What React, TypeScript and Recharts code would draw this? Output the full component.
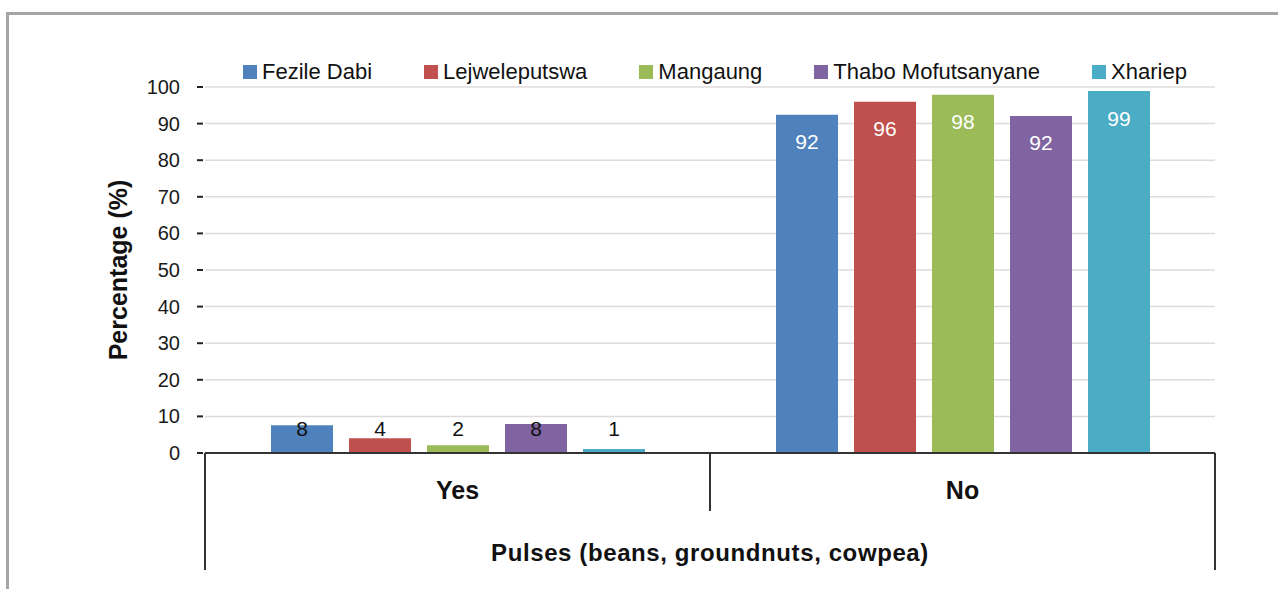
import { BarChart, Bar, XAxis, YAxis, CartesianGrid, Legend, LabelList } from 'recharts';

const categories = ['Yes', 'No'];
const districts = ['Fezile Dabi', 'Lejweleputswa', 'Mangaung', 'Thabo Mofutsanyane', 'Xhariep'];
const fezileDabi = [7.6, 92.4];
const lejweleputswa = [4.0, 96.0];
const mangaung = [2.1, 97.9];
const thaboMofutsanyane = [7.9, 92.1];
const xhariep = [1.1, 98.9];
const yTicks = [0, 10, 20, 30, 40, 50, 60, 70, 80, 90, 100];

const seriesValues = [fezileDabi, lejweleputswa, mangaung, thaboMofutsanyane, xhariep];
const colors = ['#4F81BD', '#C0504D', '#9BBB59', '#8064A2', '#4BACC6'];

const data = categories.map((category, i) => {
  const row: Record<string, string | number> = { category };
  districts.forEach((d, j) => { row[d] = seriesValues[j][i]; });
  return row;
});

const FONT = '"Liberation Sans", Arial, Helvetica, sans-serif';

const YTick = ({ x, y, payload }: any) => (
  <g>
    <text x={x} y={y} textAnchor="end" dominantBaseline="central" fontSize={20} fill="#1a1a1a" fontFamily={FONT}>
      {payload.value}
    </text>
    <line x1={x + 17} x2={x + 23} y1={y} y2={y} stroke="#222" strokeWidth={2} />
  </g>
);

// category label plus the divider lines of the two-level axis
const XTick = ({ x, y, payload, index, visibleTicksCount }: any) => {
  const half = payload.offset;
  const last = index === visibleTicksCount - 1;
  return (
    <g>
      <line x1={x - half} x2={x - half} y1={y} y2={index === 0 ? y + 117 : y + 58} stroke="#333" strokeWidth={2} />
      {last && <line x1={x + half} x2={x + half} y1={y} y2={y + 117} stroke="#333" strokeWidth={2} />}
      <text x={x} y={y + 37} textAnchor="middle" dominantBaseline="central" fontSize={25} fontWeight="bold" fill="#111" fontFamily={FONT}>
        {payload.value}
      </text>
    </g>
  );
};

const YTitle = ({ viewBox }: any) => {
  const cx = viewBox.x + 118;
  const cy = viewBox.y + viewBox.height / 2;
  return (
    <text x={cx} y={cy} transform={`rotate(-90, ${cx}, ${cy})`} textAnchor="middle" dominantBaseline="central"
      fontSize={25} fontWeight="bold" fill="#111" fontFamily={FONT}>
      Percentage (%)
    </text>
  );
};

const BarValue = ({ x, y, width, height, value }: any) => {
  const inside = value > 50;
  return (
    <text x={x + width / 2} y={inside ? y + 27 : y + height - 25} textAnchor="middle" dominantBaseline="central"
      fontSize={21} fill={inside ? '#fff' : '#111'} fontFamily={FONT}>
      {Math.round(value)}
    </text>
  );
};

const LegendContent = () => (
  <div style={{ display: 'flex', gap: 52, fontFamily: FONT, fontSize: 22, color: '#111', whiteSpace: 'nowrap' }}>
    {districts.map((d, i) => (
      <div key={d} style={{ display: 'flex', alignItems: 'center' }}>
        <span style={{ width: 14, height: 14, background: colors[i], marginRight: 5, display: 'inline-block' }} />
        <span>{d}</span>
      </div>
    ))}
  </div>
);

export default function App() {
  return (
    <div style={{ position: 'absolute', left: 0, top: 0, width: 1278, height: 589, overflow: 'hidden', background: '#fff' }}>
      <div style={{ position: 'absolute', left: 6, top: 12, width: 1300, height: 620, border: '3px solid #a6a6a6' }} />
      <div style={{ position: 'absolute', left: 0, top: 0 }}>
        <BarChart width={1278} height={589} data={data} margin={{ top: 87, right: 63, left: 0, bottom: 0 }}
          barCategoryGap={66} barGap={16}>
          <CartesianGrid horizontal vertical={false} stroke="#e0dbdb" strokeWidth={1.5} />
          <XAxis dataKey="category" height={136} tickSize={0} tickMargin={0} tickLine={false}
            axisLine={{ stroke: '#333', strokeWidth: 2 }} tick={<XTick />} interval={0}
            label={{ value: 'Pulses (beans, groundnuts, cowpea)', position: 'insideBottom', offset: 28,
              fill: '#111', fontSize: 24, fontWeight: 'bold', fontFamily: FONT, letterSpacing: 0.6 }} />
          <YAxis width={205} domain={[0, 100]} ticks={yTicks} interval={0} tickSize={0} tickMargin={25}
            tickLine={false} axisLine={false} tick={<YTick />} label={{ content: <YTitle /> }} />
          <Legend layout="horizontal" verticalAlign="middle" align="center" content={<LegendContent />}
            wrapperStyle={{ top: 59, left: 243, width: 1000 }} />
          {districts.map((d, i) => (
            <Bar key={d} dataKey={d} fill={colors[i]} isAnimationActive={false}>
              <LabelList dataKey={d} content={<BarValue />} />
            </Bar>
          ))}
        </BarChart>
      </div>
    </div>
  );
}
